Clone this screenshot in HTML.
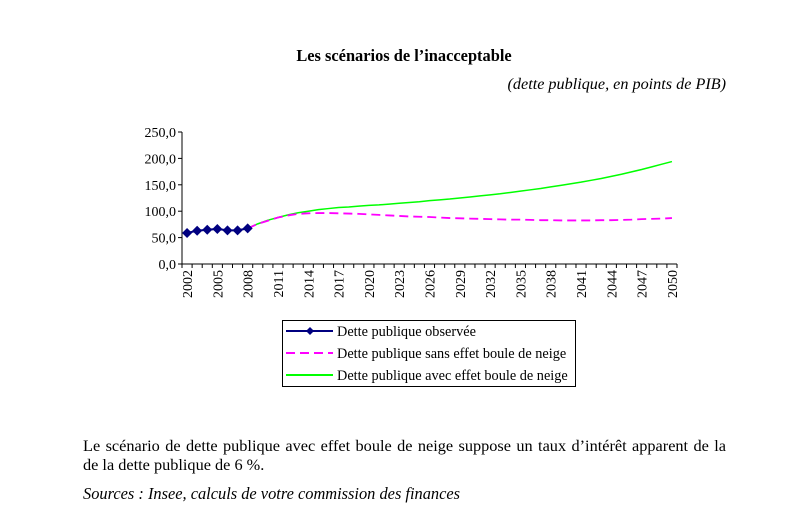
<!DOCTYPE html>
<html><head><meta charset="utf-8"><style>
body{margin:0;width:789px;height:531px;background:#fff;font-family:"Liberation Serif",serif;color:#000;position:relative;overflow:hidden}
.t{position:absolute;white-space:nowrap}
</style></head><body>
<div class="t" style="left:0;width:808px;text-align:center;top:46px;font-size:16.4px;font-weight:bold">Les scénarios de l’inacceptable</div>
<div class="t" style="right:63px;top:75px;font-size:16.2px;font-style:italic">(dette publique, en points de PIB)</div>
<svg id="c" width="789" height="531" style="position:absolute;left:0;top:0"></svg>
<div style="position:absolute;left:83px;top:436px;width:643px;font-size:16.3px;line-height:19px">
<div style="text-align:justify;text-align-last:justify;white-space:nowrap">Le scénario de dette publique avec effet boule de neige suppose un taux d’intérêt apparent de la</div>
<div>de la dette publique de 6 %.</div></div>
<div class="t" style="left:83px;top:484px;font-size:16.4px;font-style:italic">Sources : Insee, calculs de votre commission des finances</div>
<script>
const years=[];for(let y=2002;y<=2050;y++)years.push(y);
const yTicks=[0,50,100,150,200,250];
const observed=[58.8,62.9,64.9,66.4,63.6,63.8,67.4];
const sansEffet=[null,null,null,null,null,null,67.4,76,82,88,92,95,96,96.5,96.5,96,95.5,95,94,93,92,91,90,89.5,89,88,87,86.5,86,85.5,85,84.5,84,84,83.5,83,83,82.5,82.5,82.5,82.5,83,83,83.5,84,85,85.5,86,87];
const avecEffet=[null,null,null,null,null,null,67.4,76,83,88,93,97,100,103,105,107,108,109.5,111,112,113.5,115,116.5,118,120,121.5,123,125,127,129,131,133,135.5,138,140.5,143,146,149,152,155,158.5,162,166,170,174.5,179,184,189,194];
const svg=document.getElementById('c');const NS='http://www.w3.org/2000/svg';
const X0=182,X1=677,Y0=264,Y1=132;
const band=(X1-X0)/years.length;
const xs=i=>X0+band*(i+0.5);
const ys=v=>Y0-(v/250)*(Y0-Y1);
function mk(t,a){const e=document.createElementNS(NS,t);for(const k in a)e.setAttribute(k,a[k]);svg.appendChild(e);return e;}
let e=mk('line',{x1:X0,y1:Y1,x2:X0,y2:Y0,stroke:'#000'});


e=mk('line',{x1:X0,y1:Y0,x2:X1,y2:Y0,stroke:'#000'});


yTicks.forEach(v=>{mk('line',{x1:X0-4,x2:X0,y1:ys(v),y2:ys(v),stroke:'#000'});
const t=mk('text',{x:X0-6,y:ys(v)+5,'text-anchor':'end','font-size':14,'font-family':'Liberation Serif'});t.textContent=v.toFixed(1).replace('.',',');

});
for(let i=0;i<=years.length;i++)mk('line',{x1:X0+band*i,x2:X0+band*i,y1:Y0,y2:Y0+4,stroke:'#000'});
years.forEach((y,i)=>{if((y-2002)%3)return;const t=mk('text',{transform:`translate(${xs(i)+5},${Y0+6}) rotate(-90)`,'text-anchor':'end','font-size':14,'font-family':'Liberation Serif'});t.textContent=y;

});
function path(arr){let d='';arr.forEach((v,i)=>{if(v==null)return;d+=(d?'L':'M')+xs(i)+','+ys(v);});return d;}
e=mk('path',{d:path(avecEffet),fill:'none',stroke:'#00ff00','stroke-width':1.5});


e=mk('path',{d:path(sansEffet),fill:'none',stroke:'#ff00ff','stroke-width':1.8,'stroke-dasharray':'9,5'});


e=mk('path',{d:path(observed),fill:'none',stroke:'#000080','stroke-width':2});


observed.forEach((v,i)=>{const x=xs(i),y=ys(v);const p=mk('polygon',{points:`${x},${y-5} ${x+5},${y} ${x},${y+5} ${x-5},${y}`,fill:'#000080'});

});
e=mk('rect',{x:282.5,y:320.5,width:293,height:66,fill:'none',stroke:'#000'});


const leg=[['Dette publique observée','#000080',''],['Dette publique sans effet boule de neige','#ff00ff','9,5'],['Dette publique avec effet boule de neige','#00ff00','']];
leg.forEach((l,i)=>{const y=331+i*22;mk('line',{x1:286,x2:333,y1:y,y2:y,stroke:l[1],'stroke-width':2,'stroke-dasharray':l[2]});
if(i==0)mk('polygon',{points:`310,${y-4} 314,${y} 310,${y+4} 306,${y}`,fill:'#000080'});
const t=mk('text',{x:337,y:y+5,'font-size':14.3,'font-family':'Liberation Serif'});t.textContent=l[0];

});
</script>
</body></html>
